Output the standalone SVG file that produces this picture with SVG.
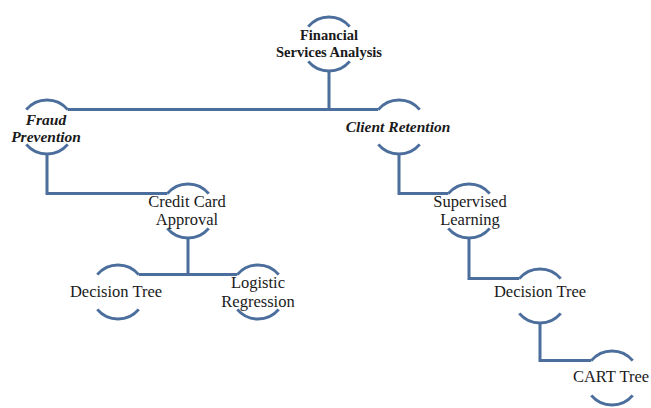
<svg xmlns="http://www.w3.org/2000/svg" width="651" height="408" viewBox="0 0 651 408">
<style>
.arc{fill:none;stroke:#4b6e9c;stroke-width:3;stroke-linecap:butt}
.con{fill:none;stroke:#4b6e9c;stroke-width:3}
text{font-family:"Liberation Serif","Times New Roman",serif;fill:#1a1a1a;text-anchor:middle;font-size:16.5px}
.b{font-weight:bold;font-size:14.5px}
.bi{font-weight:bold;font-style:italic;font-size:15.5px}
</style>
<rect width="651" height="408" fill="#ffffff"/>
<g id="connectors">
<path class="con" d="M67.7,109.6 H378.3 M329,70 V109.6"/>
<path class="con" d="M47,154 V193.6 H167.3"/>
<path class="con" d="M188,238 V274.6 M138.7,274.6 H237.3"/>
<path class="con" d="M399,154 V193.6 H448.3"/>
<path class="con" d="M469,238 V278.6 H519.3"/>
<path class="con" d="M540,323 V360.6 H591.3"/>
</g>
<g id="root">
<path class="arc" d="M308.3,26.6 A27,27 0 0 1 349.7,26.6 M308.3,61.4 A27,27 0 0 0 349.7,61.4"/>
<text class="b" x="329" y="40">Financial</text>
<text class="b" x="329" y="57">Services Analysis</text>
</g>
<g id="fraud">
<path class="arc" d="M26.3,109.6 A27,27 0 0 1 67.7,109.6 M26.3,144.4 A27,27 0 0 0 67.7,144.4"/>
<text class="bi" x="46" y="125">Fraud</text>
<text class="bi" x="46" y="142">Prevention</text>
</g>
<g id="client">
<path class="arc" d="M378.3,109.6 A27,27 0 0 1 419.7,109.6 M378.3,144.4 A27,27 0 0 0 419.7,144.4"/>
<text class="bi" x="398" y="132">Client Retention</text>
</g>
<g id="credit">
<path class="arc" d="M167.3,193.6 A27,27 0 0 1 208.7,193.6 M167.3,228.4 A27,27 0 0 0 208.7,228.4"/>
<text x="187" y="207">Credit Card</text>
<text x="187" y="225">Approval</text>
</g>
<g id="dt1">
<path class="arc" d="M97.3,274.6 A27,27 0 0 1 138.7,274.6 M97.3,309.4 A27,27 0 0 0 138.7,309.4"/>
<text x="116" y="297">Decision Tree</text>
</g>
<g id="logistic">
<path class="arc" d="M237.3,274.6 A27,27 0 0 1 278.7,274.6 M237.3,309.4 A27,27 0 0 0 278.7,309.4"/>
<text x="258" y="288">Logistic</text>
<text x="258" y="307">Regression</text>
</g>
<g id="supervised">
<path class="arc" d="M448.3,193.6 A27,27 0 0 1 489.7,193.6 M448.3,228.4 A27,27 0 0 0 489.7,228.4"/>
<text x="470" y="207">Supervised</text>
<text x="470" y="225">Learning</text>
</g>
<g id="dt2">
<path class="arc" d="M519.3,278.6 A27,27 0 0 1 560.7,278.6 M519.3,313.4 A27,27 0 0 0 560.7,313.4"/>
<text x="540" y="297">Decision Tree</text>
</g>
<g id="cart">
<path class="arc" d="M591.3,360.6 A27,27 0 0 1 632.7,360.6 M591.3,395.4 A27,27 0 0 0 632.7,395.4"/>
<text x="611" y="382">CART Tree</text>
</g>
</svg>
